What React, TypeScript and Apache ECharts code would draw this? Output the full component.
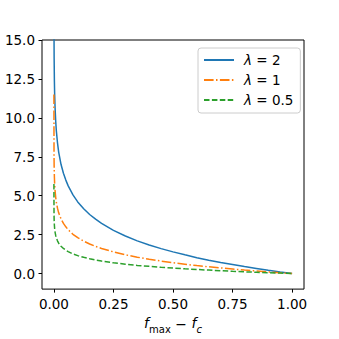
import React, { useEffect, useRef } from "react";
import * as echarts from "echarts";

// x positions sampled along the curves (f_max - f_c)
const xValues = [0, 0.0005, 0.001, 0.002, 0.003, 0.005, 0.0075, 0.01, 0.015, 0.02, 0.03, 0.04, 0.05, 0.06, 0.08, 0.1, 0.125, 0.15, 0.175, 0.2, 0.25, 0.3, 0.35, 0.4, 0.45, 0.5, 0.55, 0.6, 0.65, 0.7, 0.75, 0.8, 0.85, 0.9, 0.95, 1.0];
// values
const lambda2 = [23, 15.2, 13.8, 12.4, 11.6, 10.6, 9.8, 9.2, 8.4, 7.8, 7.0, 6.44, 6.0, 5.63, 5.05, 4.6, 4.16, 3.79, 3.49, 3.22, 2.77, 2.41, 2.1, 1.83, 1.6, 1.39, 1.2, 1.02, 0.86, 0.71, 0.58, 0.45, 0.33, 0.21, 0.1, 0];
const lambda1 = [11.5, 7.6, 6.9, 6.2, 5.8, 5.3, 4.9, 4.6, 4.2, 3.9, 3.5, 3.22, 3.0, 2.81, 2.52, 2.3, 2.08, 1.9, 1.74, 1.61, 1.39, 1.2, 1.05, 0.92, 0.8, 0.69, 0.6, 0.51, 0.43, 0.36, 0.29, 0.22, 0.16, 0.1, 0.05, 0];
const lambda05 = [5.75, 3.8, 3.45, 3.1, 2.9, 2.65, 2.45, 2.3, 2.1, 1.95, 1.75, 1.61, 1.5, 1.41, 1.26, 1.15, 1.04, 0.95, 0.87, 0.8, 0.69, 0.6, 0.52, 0.46, 0.4, 0.35, 0.3, 0.26, 0.22, 0.18, 0.14, 0.11, 0.08, 0.05, 0.03, 0];
const seriesNames = ["λ = 2", "λ = 1", "λ = 0.5"];
const yTicks = [0, 2.5, 5, 7.5, 10, 12.5, 15];
const xTicks = [0, 0.25, 0.5, 0.75, 1.0];

const colors = ["#1f77b4", "#ff7f0e", "#2ca02c"];
const dashes: any[] = ["solid", [9.6, 2.4, 1.5, 2.4], [5.5, 2.4]];

export default function App() {
  const ref = useRef<HTMLDivElement>(null);
  useEffect(() => {
    if (!ref.current) return;
    const chart = echarts.init(ref.current, null, { renderer: "svg" });
    const all = [lambda2, lambda1, lambda05];
    const font = "DejaVu Sans";
    chart.setOption({
      animation: false,
      textStyle: { fontFamily: font },
      grid: {
        left: 42,
        width: 262,
        top: 40,
        height: 256,
        show: true,
        borderColor: "#000",
        borderWidth: 1,
        backgroundColor: "transparent",
      },
      legend: {
        orient: "vertical",
        left: 198,
        top: 48,
        padding: [5, 7, 6, 5],
        itemWidth: 30,
        itemHeight: 10,
        itemGap: 6,
        backgroundColor: "rgba(255,255,255,0.8)",
        borderColor: "#cccccc",
        borderWidth: 1,
        borderRadius: 3,
        itemStyle: { opacity: 0 },
        data: seriesNames,
        formatter: (name: string) => "{i|λ}" + name.slice(1),
        textStyle: {
          fontFamily: font,
          fontSize: 13.5,
          color: "#000",
          padding: [0, 0, 0, 5],
          rich: {
            i: { fontFamily: font, fontStyle: "italic", fontSize: 13.5, color: "#000" },
          },
        },
      },
      xAxis: {
        type: "value",
        min: -0.05,
        max: 1.05,
        splitLine: { show: false },
        axisLine: { show: false, onZero: false },
        axisTick: {
          show: true,
          length: 3.5,
          lineStyle: { color: "#000" },
          customValues: xTicks,
        },
        axisLabel: {
          customValues: xTicks,
          margin: 8,
          fontSize: 13.5,
          color: "#000",
          fontFamily: font,
          formatter: (v: number) => v.toFixed(2),
        },
        name: "{i|f}{s|max} − {i|f}{si|c}",
        nameLocation: "middle",
        nameGap: 25,
        nameTextStyle: {
          fontFamily: font,
          fontSize: 14,
          color: "#000",
          rich: {
            i: { fontFamily: font, fontStyle: "italic", fontSize: 14, lineHeight: 15, verticalAlign: "top", color: "#000" },
            s: { fontFamily: font, fontSize: 10, lineHeight: 10, padding: [8, 0, 0, 0], verticalAlign: "top", color: "#000" },
            si: { fontFamily: font, fontStyle: "italic", fontSize: 10, lineHeight: 10, padding: [8, 0, 0, 0], verticalAlign: "top", color: "#000" },
          },
        },
      },
      yAxis: {
        type: "value",
        min: -1,
        max: 15,
        splitLine: { show: false },
        axisLine: { show: false, onZero: false },
        axisTick: {
          show: true,
          length: 3.5,
          lineStyle: { color: "#000" },
          customValues: yTicks,
        },
        axisLabel: {
          customValues: yTicks,
          margin: 7,
          fontSize: 13.5,
          color: "#000",
          fontFamily: font,
          formatter: (v: number) => v.toFixed(1),
        },
      },
      series: seriesNames.map((n, k) => ({
        name: n,
        type: "line",
        symbol: "none",
        smooth: false,
        clip: true,
        color: colors[k],
        lineStyle: { color: colors[k], width: 1.5, type: dashes[k] },
        data: xValues.map((x, i) => [x, all[k][i]]),
      })),
    });
    return () => chart.dispose();
  }, []);
  return <div ref={ref} style={{ position: "fixed", left: 0, top: 0, width: 339, height: 339, background: "#fff" }} />;
}
